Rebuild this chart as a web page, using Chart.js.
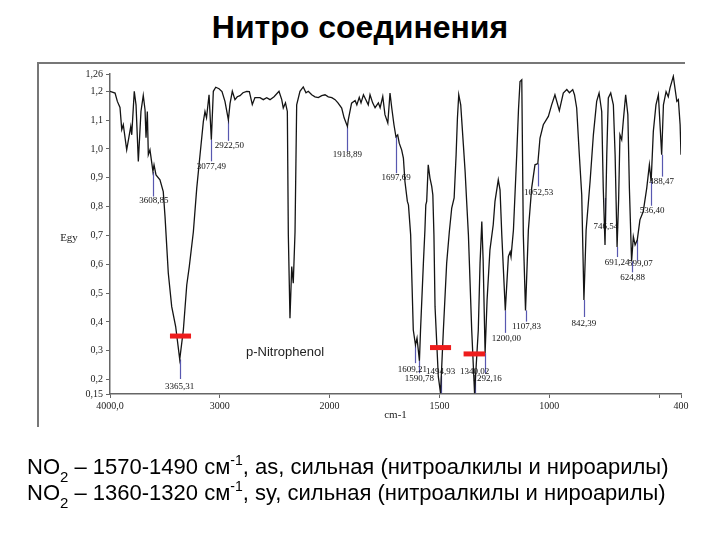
<!DOCTYPE html>
<html lang="ru">
<head>
  <meta charset="UTF-8">
  <title>Нитро соединения</title>
  <script src="https://cdn.jsdelivr.net/npm/chart.js"></script>
  <style>
    body {
      margin: 0;
      width: 720px;
      height: 540px;
      background: #fff;
      position: relative;
      overflow: hidden;
      font-family: Arial, "Liberation Sans", sans-serif;
    }
    .title {
      position: absolute;
      top: 9px;
      left: 0;
      width: 720px;
      text-align: center;
      font-weight: bold;
      font-size: 32px;
      color: #000;
    }
    .frame {
      position: absolute;
      left: 37px;
      top: 62px;
      width: 646px;
      height: 363px;
      border-top: 2px solid #777;
      border-left: 2px solid #777;
    }
    .chart-box {
      position: absolute;
      left: 0;
      top: 0;
      width: 720px;
      height: 540px;
    }
    .notes {
      position: absolute;
      left: 27px;
      top: 454px;
      font-size: 22px;
      line-height: 26px;
      color: #000;
      white-space: nowrap;
    }
    .notes .lo { font-size: 15px; line-height: 0; position: relative; top: 8px; }
    .notes .hi { font-size: 14px; line-height: 0; position: relative; top: -9px; }
  </style>
</head>
<body>
  <div class="title">Нитро соединения</div>
  <div class="frame"></div>
  <div class="chart-box"><canvas id="irChart" width="720" height="540"></canvas></div>
  <div class="notes">
    <div>NO<span class="lo">2</span> – 1570-1490 см<span class="hi">-1</span>, as, сильная (нитроалкилы и нироарилы)</div>
    <div>NO<span class="lo">2</span> – 1360-1320 см<span class="hi">-1</span>, sy, сильная (нитроалкилы и нироарилы)</div>
  </div>

  <script>
    // spectrum of p-nitrophenol
    const waves = [4000, 3954, 3933, 3909, 3893, 3879, 3848, 3827, 3811, 3802, 3779, 3763, 3742, 3718, 3697, 3681, 3672, 3660, 3651, 3636,
      3609, 3599, 3581, 3545, 3515, 3499, 3469, 3438, 3402, 3365, 3332, 3301, 3278, 3241, 3210, 3180, 3150, 3135, 3121, 3098,
      3077, 3059, 3037, 3007, 2980, 2953, 2922, 2907, 2886, 2862, 2841, 2816, 2789, 2755, 2731, 2704, 2680, 2634, 2604, 2573,
      2543, 2506, 2461, 2436, 2422, 2402, 2385, 2376, 2361, 2345, 2331, 2315, 2300, 2270, 2240, 2215, 2194, 2163, 2133, 2103,
      2072, 2042, 2012, 1990, 1975, 1962, 1945, 1934, 1919, 1915, 1900, 1884, 1876, 1865, 1857, 1846, 1835, 1824, 1816, 1804,
      1793, 1778, 1770, 1758, 1748, 1735, 1725, 1717, 1707, 1698, 1690, 1683, 1672, 1664, 1657, 1646, 1641, 1631, 1619, 1609,
      1602, 1591, 1586, 1573, 1566, 1562, 1558, 1551, 1543, 1535, 1530, 1525, 1520, 1505, 1495, 1482, 1467, 1455, 1444, 1433,
      1424, 1418, 1412, 1403, 1391, 1383, 1376, 1368, 1353, 1340, 1323, 1315, 1307, 1301, 1292, 1283, 1270, 1255, 1247, 1232,
      1224, 1216, 1200, 1186, 1178, 1174, 1163, 1148, 1140, 1133, 1125, 1118, 1108, 1095, 1080, 1065, 1052, 1042, 1027, 1004,
      989, 974, 954, 936, 920, 908, 893, 885, 875, 863, 852, 842, 832, 814, 799, 784, 773, 761, 754, 746,
      738, 731, 720, 708, 700, 691, 684, 678, 670, 663, 652, 642, 635, 625, 617, 609, 599, 587, 572, 556,
      544, 536, 526, 514, 503, 488, 480, 468, 458, 450, 435, 419, 412, 404, 400];
    const energy = [1.20, 1.194, 1.165, 1.144, 1.067, 1.084, 0.997, 1.043, 1.078, 1.049, 1.20, 1.153, 0.957, 1.13, 1.186, 1.136, 1.039, 1.13, 0.98, 0.997,
      0.922, 0.945, 0.91, 0.893, 0.852, 0.766, 0.569, 0.453, 0.384, 0.27, 0.372, 0.528, 0.592, 0.712, 0.864, 0.98, 1.095, 1.13, 1.108, 1.188,
      1.032, 1.20, 1.214, 1.209, 1.199, 1.165, 1.101, 1.157, 1.20, 1.171, 1.181, 1.185, 1.195, 1.20, 1.199, 1.154, 1.178, 1.178, 1.171, 1.178,
      1.171, 1.181, 1.20, 1.171, 1.142, 1.16, 1.13, 0.702, 0.413, 0.592, 0.534, 0.712, 1.153, 1.20, 1.215, 1.195, 1.20, 1.188, 1.181, 1.178,
      1.185, 1.188, 1.181, 1.178, 1.171, 1.16, 1.142, 1.108, 1.078, 1.101, 1.159, 1.168, 1.153, 1.179, 1.16, 1.188, 1.171, 1.153, 1.188, 1.16,
      1.143, 1.16, 1.143, 1.182, 1.119, 1.09, 1.194, 1.142, 1.084, 1.042, 1.049, 1.02, 0.997, 0.968, 0.887, 0.818, 0.806, 0.702, 0.372, 0.32,
      0.344, 0.265, 0.372, 0.604, 0.719, 0.806, 0.818, 0.945, 0.899, 0.87, 0.841, 0.702, 0.453, 0.21, 0.153, 0.372, 0.604, 0.712, 0.795, 0.83,
      0.98, 1.107, 1.188, 1.153, 1.015, 0.922, 0.818, 0.702, 0.372, 0.153, 0.372, 0.604, 0.748, 0.615, 0.292, 0.476, 0.65, 0.737, 0.818, 0.893,
      0.858, 0.702, 0.44, 0.627, 0.643, 0.626, 0.719, 0.98, 1.136, 1.234, 1.24, 0.702, 0.44, 0.719, 0.864, 0.945, 0.949, 1.038, 1.084, 1.113,
      1.153, 1.188, 1.133, 1.194, 1.206, 1.195, 1.206, 1.188, 1.142, 0.98, 0.841, 0.476, 0.719, 0.887, 1.049, 1.165, 1.194, 1.13, 0.864, 0.667,
      0.98, 1.177, 1.194, 1.153, 0.98, 0.66, 0.824, 1.049, 1.032, 1.095, 1.188, 1.119, 0.864, 0.61, 0.696, 0.667, 0.685, 0.754, 0.783, 0.864,
      0.945, 0.887, 1.061, 1.153, 1.188, 0.98, 1.153, 1.199, 1.181, 1.212, 1.252, 1.165, 1.171, 1.084, 0.98];

    const xTicks = [4000, 3000, 2000, 1500, 1000, 500, 400];
    const xTickLabels = ['4000,0', '3000', '2000', '1500', '1000', '', '400'];
    const yTicks = [0.15, 0.2, 0.3, 0.4, 0.5, 0.6, 0.7, 0.8, 0.9, 1.0, 1.1, 1.2, 1.26];
    const yTickLabels = ['0,15', '0,2', '0,3', '0,4', '0,5', '0,6', '0,7', '0,8', '0,9', '1,0', '1,1', '1,2', '1,26'];

    // peak marks: wavenumber, text, line from, line to, text level, text shift
    const peakMarks = [
      [3608.85, '3608,85', 0.92, 0.835, 0.820, 1],
      [3365.31, '3365,31', 0.27, 0.202, 0.175, 0],
      [3077.49, '3077,49', 1.032, 0.957, 0.939, 0],
      [2922.50, '2922,50', 1.10, 1.028, 1.012, 1],
      [1918.89, '1918,89', 1.078, 0.991, 0.980, 0],
      [1697.69, '1697,69', 1.042, 0.916, 0.902, 0],
      [1609.21, '1609,21', 0.32, 0.257, 0.236, -3],
      [1590.78, '1590,78', 0.265, 0.222, 0.202, 0],
      [1494.93, '1494,93', 0.153, 0.213, 0.227, 0],
      [1340.02, '1340,02', 0.153, 0.213, 0.227, 0],
      [1292.16, '1292,16', 0.292, 0.222, 0.204, 2],
      [1200.00, '1200,00', 0.44, 0.362, 0.343, 1],
      [1107.83, '1107,83', 0.44, 0.401, 0.382, 1],
      [1052.53, '1052,53', 0.949, 0.870, 0.850, 1],
      [842.39, '842,39', 0.476, 0.417, 0.395, 0],
      [746.54, '746,54', 0.83, 0.747, 0.731, 1],
      [691.24, '691,24', 0.66, 0.625, 0.604, 0],
      [624.88, '624,88', 0.61, 0.572, 0.554, 1],
      [599.07, '599,07', 0.685, 0.612, 0.601, 3],
      [536.40, '536,40', 0.887, 0.803, 0.785, 1],
      [488.47, '488,47', 0.98, 0.904, 0.885, 0]
    ];

    // red bars over the NO2 bands: from, to, level
    const nitroBands = [
      [3454, 3262, 0.351],
      [1543, 1447, 0.311],
      [1390, 1292, 0.289]
    ];

    // the axis is stretched 2x below 2000 cm-1
    function toAxis(w) {
      return w >= 2000 ? 4000 - w : 2000 + (2000 - w) * 2;
    }

    const points = waves.map((w, i) => ({ x: toAxis(w), y: energy[i] }));

    const linesBelow = {
      id: 'linesBelow',
      beforeDatasetsDraw(chart) {
        const { ctx, scales: { x, y } } = chart;
        ctx.save();
        ctx.strokeStyle = '#5858b0';
        ctx.lineWidth = 1.2;
        peakMarks.forEach(([w, , from, to]) => {
          const px = Math.round(x.getPixelForValue(toAxis(w))) + 0.5;
          ctx.beginPath();
          ctx.moveTo(px, y.getPixelForValue(from));
          ctx.lineTo(px, y.getPixelForValue(to));
          ctx.stroke();
        });
        ctx.restore();
      }
    };

    const marksAbove = {
      id: 'marksAbove',
      afterDatasetsDraw(chart) {
        const { ctx, chartArea, scales: { x, y } } = chart;
        ctx.save();
        ctx.strokeStyle = '#ee1c1c';
        ctx.lineWidth = 5;
        nitroBands.forEach(([a, b, v]) => {
          const py = y.getPixelForValue(v);
          ctx.beginPath();
          ctx.moveTo(x.getPixelForValue(toAxis(a)), py);
          ctx.lineTo(x.getPixelForValue(toAxis(b)), py);
          ctx.stroke();
        });

        ctx.fillStyle = '#111';
        ctx.font = '9px "Liberation Serif"';
        ctx.textAlign = 'center';
        ctx.textBaseline = 'middle';
        peakMarks.forEach(([w, text, , , tv, dx]) => {
          ctx.fillText(text, x.getPixelForValue(toAxis(w)) + dx, y.getPixelForValue(tv));
        });

        ctx.font = '13px "Liberation Sans"';
        ctx.fillStyle = '#222';
        ctx.fillText('p-Nitrophenol', x.getPixelForValue(toAxis(2406)), y.getPixelForValue(0.293));

        ctx.font = '11px "Liberation Serif"';
        ctx.fillText('cm-1', (chartArea.left + chartArea.right) / 2, chartArea.bottom + 21);
        ctx.fillText('Egy', chartArea.left - 41, y.getPixelForValue(0.69));
        ctx.restore();
      }
    };

    const axisColor = '#666';
    const tickFont = { family: '"Liberation Serif"', size: 10 };

    new Chart(document.getElementById('irChart'), {
      type: 'line',
      data: {
        datasets: [{
          label: 'p-Nitrophenol',
          data: points,
          borderColor: '#141414',
          borderWidth: 1.3,
          pointRadius: 0,
          tension: 0,
          fill: false
        }]
      },
      options: {
        responsive: false,
        animation: false,
        layout: { padding: { top: 74, right: 39, left: 0, bottom: 0 } },
        plugins: {
          legend: { display: false },
          tooltip: { enabled: false }
        },
        scales: {
          x: {
            type: 'linear',
            min: 0,
            max: toAxis(400),
            afterBuildTicks(axis) {
              axis.ticks = xTicks.map(w => ({ value: toAxis(w) }));
            },
            afterFit(scale) {
              scale.height = 146;
            },
            grid: { drawOnChartArea: false, drawTicks: true, tickLength: 4, color: axisColor },
            border: { display: true, color: axisColor, width: 1.5 },
            ticks: {
              autoSkip: false,
              maxRotation: 0,
              padding: 2,
              color: '#222',
              font: tickFont,
              callback: (val, i) => xTickLabels[i]
            }
          },
          y: {
            type: 'linear',
            min: 0.15,
            max: 1.26,
            afterBuildTicks(axis) {
              axis.ticks = yTicks.map(v => ({ value: v }));
            },
            afterFit(scale) {
              scale.width = 110;
            },
            grid: { drawOnChartArea: false, drawTicks: true, tickLength: 4, color: axisColor },
            border: { display: true, color: axisColor, width: 1.5 },
            ticks: {
              autoSkip: false,
              padding: 3,
              color: '#222',
              font: tickFont,
              callback: (val, i) => yTickLabels[i]
            }
          }
        }
      },
      plugins: [linesBelow, marksAbove]
    });
  </script>
</body>
</html>
